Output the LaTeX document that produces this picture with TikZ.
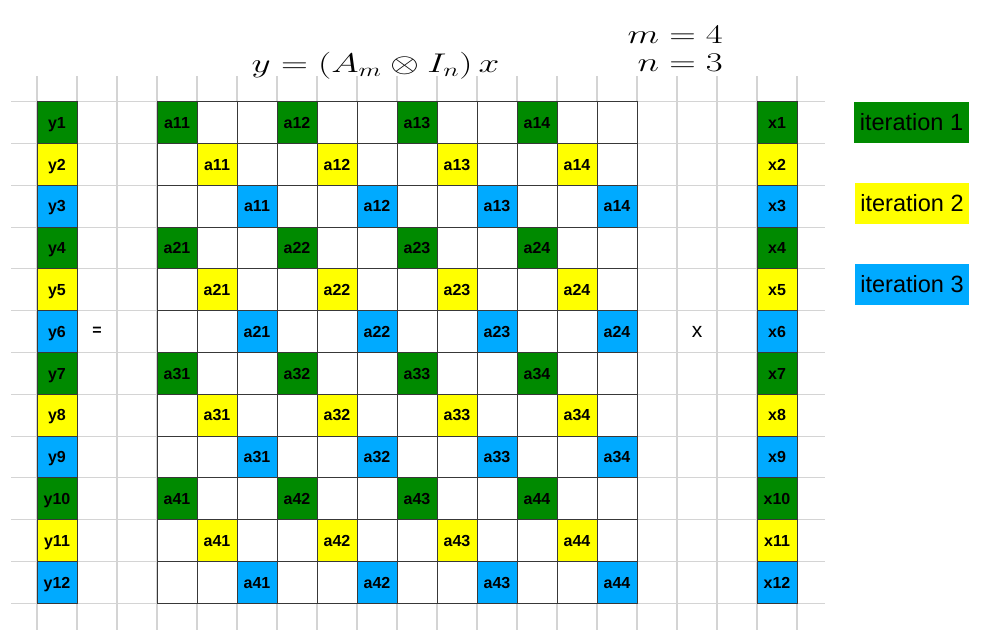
\RequirePackage{fix-cm}
\documentclass[tikz,border=0pt]{standalone}
\usepackage{fontspec}
\setmainfont{Liberation Sans}
\usepackage{graphicx}
\definecolor{itgreen}{RGB}{0,138,0}
\definecolor{ityellow}{RGB}{255,255,0}
\definecolor{itblue}{RGB}{0,170,255}
\tikzset{
  gridline/.style={draw=black!17, line width=1.1pt},
  cell/.style={draw=black!78, line width=0.9pt, minimum width=40pt, minimum height=41.8pt,
    inner sep=0pt, text height=11.5pt, text depth=0pt, font=\fontsize{16}{16}\selectfont\bfseries},
  legend/.style={minimum width=115pt, minimum height=41pt, inner sep=0pt,
    font=\fontsize{23.5}{23.5}\selectfont},
  mathlabel/.style={inner sep=0pt, font=\fontsize{27}{27}\selectfont}
}
\begin{document}
\begin{tikzpicture}[x=1pt,y=-1pt]
\useasboundingbox (0,0) rectangle (984,641);
\fill[white] (0,0) rectangle (984,641);
% background grid
\foreach \k in {0,...,12} \draw[gridline] (11,101.7+41.8*\k) -- (825,101.7+41.8*\k);
\foreach \k in {0,...,19} \draw[gridline] (37+40*\k,76) -- (37+40*\k,630);
% cells
\foreach \r in {0,...,11}{
  \pgfmathtruncatemacro\rm{mod(\r,3)}
  \pgfmathtruncatemacro\ri{div(\r,3)+1}
  \pgfmathtruncatemacro\rn{\r+1}
  \pgfmathsetmacro\yc{101.7+41.8*\r+20.9}
  \ifcase\rm \def\cc{itgreen}\or \def\cc{ityellow}\or \def\cc{itblue}\fi
  \node[cell,fill=\cc] (y\rn) at (57,\yc) {y\rn};
  \node[cell,fill=\cc] (x\rn) at (777,\yc) {x\rn};
  \foreach \c in {0,...,11}{
    \pgfmathtruncatemacro\cm{mod(\c,3)}
    \pgfmathtruncatemacro\cj{div(\c,3)+1}
    \ifnum\cm=\rm
      \node[cell,fill=\cc] (a-\r-\c) at (177+40*\c,\yc) {a\ri\cj};
    \else
      \node[cell,fill=white] (a-\r-\c) at (177+40*\c,\yc) {};
    \fi
  }
}
% operators
\node[inner sep=0pt, font=\fontsize{16}{16}\selectfont\bfseries] (eq) at (97,331.6) {=};
\node[inner sep=0pt, font=\fontsize{21}{21}\selectfont] (times) at (697,331.6) {x};
% titles
\node[mathlabel, anchor=base] (title) at (375.5,72.7) {\scalebox{1.38}[1]{$y = (A_m \otimes I_n)\,x$}};
\node[mathlabel, anchor=base east] (mval) at (723,43.3) {\scalebox{1.36}[1]{$m = 4$}};
\node[mathlabel, anchor=base east] (nval) at (723,71.7) {\scalebox{1.36}[1]{$n = 3$}};
% legend
\node[legend, fill=itgreen] (it1) at (911.5,122.5) {iteration 1};
\node[legend, fill=ityellow, minimum width=114pt] (it2) at (912,203.5) {iteration 2};
\node[legend, fill=itblue, minimum width=114pt] (it3) at (912,284) {iteration 3};
\end{tikzpicture}
\end{document}
